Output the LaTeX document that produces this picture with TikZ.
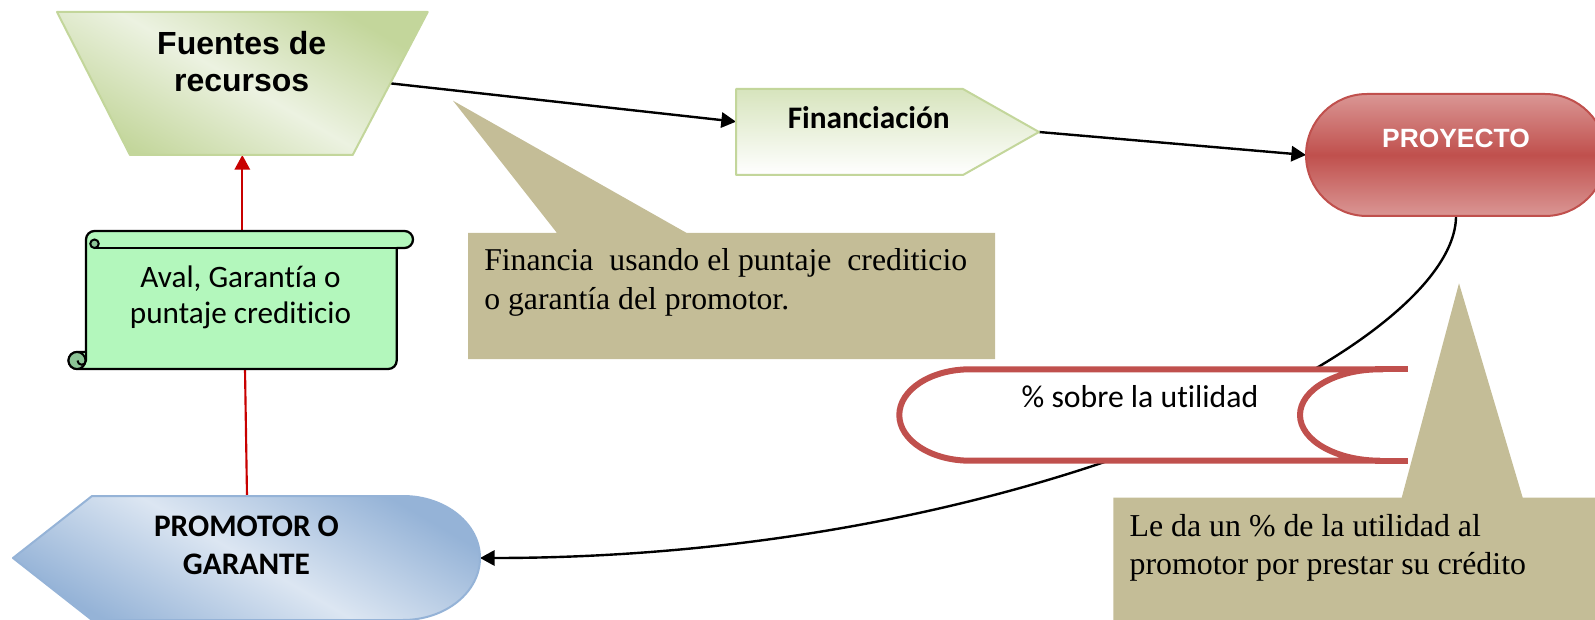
\documentclass[tikz,border=0pt]{standalone}
\usepackage{fontspec}
\setmainfont{Liberation Serif}
\newfontfamily\arialfont{Liberation Sans}
\newfontfamily\calibrifont[Ligatures=NoCommon]{Carlito}
\usetikzlibrary{arrows.meta}

\definecolor{fuenteLight}{RGB}{236,242,225}
\definecolor{fuenteDark}{RGB}{195,214,155}
\definecolor{finLight}{RGB}{215,228,189}
\definecolor{proyLight}{RGB}{218,150,148}
\definecolor{proyDark}{RGB}{192,80,77}
\definecolor{promLight}{RGB}{220,230,242}
\definecolor{promDark}{RGB}{149,179,215}
\definecolor{avalFill}{RGB}{179,247,188}
\definecolor{avalCurl}{RGB}{140,196,150}
\definecolor{notaFill}{RGB}{196,189,151}
\definecolor{flechaRoja}{RGB}{200,0,0}

\tikzset{
	conector/.style={line width=1.8pt, -{Triangle[length=11pt,width=11.5pt]}},
	conectorRojo/.style={line width=1.6pt, draw=flechaRoja},
	nota/.style={fill=notaFill},
	borde/.style={line width=1.5pt, line join=round},
	utilidad/.style={draw=proyDark, line width=4.5pt, fill=white},
	avalPapel/.style={draw=black, line width=1.7pt, fill=avalFill, line join=round},
	curl/.style={draw=black, line width=1.5pt, fill=avalCurl}
}

\begin{document}
\begin{tikzpicture}[x=0.75pt,y=0.75pt,yscale=-1,xscale=1, every node/.style={inner sep=0pt}]
\useasboundingbox (0,0) rectangle (1595,620);

% puntos de enlace
\coordinate (fuentesDer) at (390,83.3);
\coordinate (fuentesAbajo) at (242.3,155);
\coordinate (finIzq) at (736,121.7);
\coordinate (finPunta) at (1039,132);
\coordinate (proyIzq) at (1306,155);
\coordinate (proyBase) at (1456,216);
\coordinate (promPunta) at (480,558);
\coordinate (promArriba) at (247,496);
\coordinate (avalArriba) at (242.3,231);
\coordinate (avalAbajo) at (245,369);

% notas
\fill[nota] (468,233) -- (557,233) -- (453,100.7) -- (686.7,233) -- (995,233) -- (995,359) -- (468,359) -- cycle;
\fill[nota] (1113.3,497.7) -- (1401.7,497.7) -- (1459,283.3) -- (1522.7,497.7) -- (1600,497.7) -- (1600,625) -- (1113.3,625) -- cycle;

% conectores
\draw[conector] (fuentesDer) -- (finIzq);
\draw[conector] (finPunta) -- (proyIzq);
\draw[conector] (proyBase) .. controls (1456,346) and (1030,558) .. (promPunta);
\draw[conectorRojo] (promArriba) -- (avalAbajo);
\draw[conectorRojo, -{Triangle[length=11pt,width=11.5pt]}, flechaRoja] (avalArriba) -- (fuentesAbajo);

% figuras
\draw[borde, draw=fuenteDark, top color=fuenteDark, bottom color=fuenteDark, middle color=fuenteLight, shading angle=-30] (57,12) -- (427.7,12) -- (352.7,155) -- (130,155) -- cycle;
\draw[borde, draw=fuenteDark, top color=finLight, bottom color=white] (736,89) -- (963,89) -- (1039,132) -- (963,175) -- (736,175) -- cycle;
\draw[borde, draw=proyDark, top color=proyLight, bottom color=proyLight, middle color=proyDark] (1367,94) -- (1545,94) arc[start angle=-90,end angle=90,radius=61] -- (1367,216) arc[start angle=90,end angle=270,radius=61] -- cycle;
\draw[borde, draw=promDark, top color=promDark, bottom color=promDark, middle color=promLight, shading angle=-30] (13,558) -- (92,496) -- (403,496) arc[start angle=-90,end angle=90,x radius=77,y radius=62] -- (92,620) -- cycle;
\draw[utilidad] (1380,369.3) -- (970,369.3) arc[start angle=-90,end angle=-270,x radius=70.7,y radius=45.7] -- (1380,460.7) arc[start angle=90,end angle=270,x radius=80,y radius=45.7] -- cycle;
\draw[utilidad] (1375,369.3) -- (1408,369.3) (1375,460.7) -- (1408,460.7);

% pergamino
\draw[avalPapel] (94.5,231) -- (404.5,231) arc[start angle=-90,end angle=90,radius=8.5] -- (396.7,248) -- (396.7,360.5) arc[start angle=0,end angle=90,radius=8.5] -- (77,369) arc[start angle=90,end angle=270,radius=8.5] -- (86,352) -- (86,239.5) arc[start angle=180,end angle=270,radius=8.5] -- cycle;
\draw[avalPapel] (94.5,248) -- (396.7,248);
\draw[curl] (94.5,243.75) circle[radius=4.25];
\draw[curl] (77,360.5) circle[radius=8.5];
\draw[line width=1.5pt] (86,352) -- (86,360.5) arc[start angle=0,end angle=180,radius=4.25];

% textos
\node[font=\arialfont\bfseries\fontsize{24}{27.75}\selectfont, align=center] (fuentes) at (241.7,61.5) {Fuentes de\\recursos};
\node[font=\calibrifont\bfseries\fontsize{23.5}{28}\selectfont, anchor=base] (financiacion) at (868.7,129) {Financiación};
\node[font=\arialfont\bfseries\fontsize{19.8}{24}\selectfont, text=white, anchor=base] (proyecto) at (1456,147.5) {PROYECTO};
\node[font=\calibrifont\fontsize{23.4}{26.6}\selectfont, align=center] (aval) at (240.5,297.5) {Aval, Garantía o\\puntaje crediticio};
\node[font=\calibrifont\bfseries\fontsize{23.5}{28.5}\selectfont, align=center] (promotor) at (246.5,545) {PROMOTOR O\\GARANTE};
\node[font=\calibrifont\fontsize{23.8}{28}\selectfont, anchor=base] (utilidadTxt) at (1140,407.3) {\% sobre la utilidad};
\node[font=\fontsize{23.8}{29.25}\selectfont, align=left, anchor=west] (nota1) at (484,282) {Financia\ \ usando el puntaje\ \ crediticio\\o garantía del promotor.};
\node[font=\fontsize{23.9}{28.7}\selectfont, align=left, anchor=west] (nota2) at (1129.3,547.5) {Le da un \% de la utilidad al\\promotor por prestar su crédito};

\end{tikzpicture}
\end{document}
